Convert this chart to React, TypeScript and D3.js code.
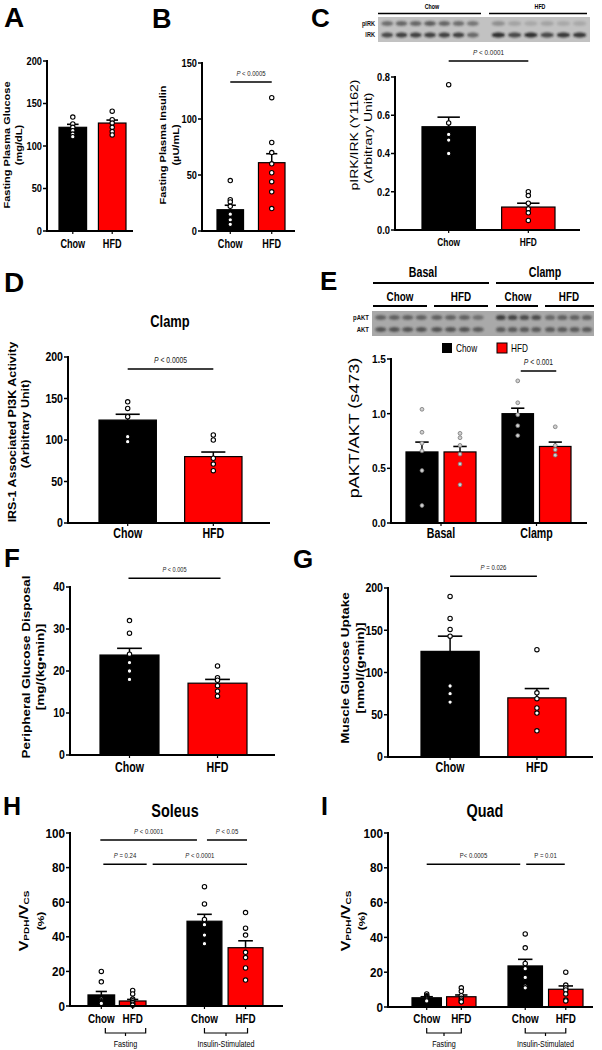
import React from "react";
import * as d3 from "d3";

const FONT = "'Liberation Sans', Arial, Helvetica, sans-serif";
const RED = "#ff0000";
const BLK = "#000000";

// ---------------- DATA ----------------
const diets = ["Chow", "HFD"];

// A  Fasting plasma glucose (mg/dL)
const glucoseTicks = [0, 50, 100, 150, 200];
const glucoseMean = [122, 127];
const glucoseSem = [3.5, 3.5];
const glucoseChow = [134, 126, 122, 118, 114, 111];
const glucoseHfd = [141, 131, 127, 122, 117, 113];

// B  Fasting plasma insulin (µU/mL)
const insulinTicks = [0, 50, 100, 150];
const insulinMean = [19, 61];
const insulinSem = [4, 8];
const insulinChow = [45, 28, 26, 22, 15, 10, 6];
const insulinHfd = [119, 79, 70, 60, 52, 44, 35, 20];

// C  pIRK/IRK
const irkTicks = [0, 0.2, 0.4, 0.6, 0.8];
const irkMean = [0.54, 0.12];
const irkSem = [0.05, 0.02];
const irkChow = [0.76, 0.56, 0.5, 0.47, 0.4];
const irkHfd = [0.2, 0.18, 0.14, 0.11, 0.09, 0.05];
const irkBlotRows = ["pIRK", "IRK"];
const pirkChowBands = [0.5, 0.55, 0.55, 0.6, 0.55, 0.5, 0.45];
const pirkHfdBands = [0.3, 0.18, 0.15, 0.18, 0.15, 0.15];
const irkChowBands = [0.75, 0.8, 0.8, 0.8, 0.8, 0.8, 0.55];
const irkHfdBands = [0.9, 0.75, 0.9, 0.75, 0.85, 0.85];

// D  IRS-1 associated PI3K activity
const pi3kTicks = [0, 50, 100, 150, 200];
const pi3kMean = [124, 80];
const pi3kSem = [7, 5.5];
const pi3kChow = [146, 138, 128, 104, 98];
const pi3kHfd = [106, 100, 78, 71, 63];

// E  pAKT/AKT
const aktConditions = ["Basal", "Clamp"];
const aktTicks = [0, 0.5, 1.0, 1.5];
const aktChowMean = [0.65, 1.0];
const aktHfdMean = [0.65, 0.7];
const aktChowSem = [0.09, 0.05];
const aktHfdSem = [0.05, 0.04];
const aktBasalChow = [1.04, 0.83, 0.73, 0.66, 0.48, 0.16];
const aktBasalHfd = [0.82, 0.78, 0.71, 0.63, 0.54, 0.35];
const aktClampChow = [1.3, 1.1, 0.99, 0.89, 0.8];
const aktClampHfd = [0.88, 0.71, 0.67, 0.62];
const aktBlotRows = ["pAKT", "AKT"];
const paktBasalChowBands = [0.5, 0.5, 0.5, 0.5];
const paktBasalHfdBands = [0.5, 0.5, 0.5, 0.4];
const paktClampChowBands = [0.75, 0.7, 0.65, 0.65];
const paktClampHfdBands = [0.45, 0.5, 0.5, 0.5];
const taktBasalChowBands = [0.6, 0.6, 0.6, 0.6];
const taktBasalHfdBands = [0.6, 0.6, 0.6, 0.55];
const taktClampChowBands = [0.55, 0.55, 0.55, 0.55];
const taktClampHfdBands = [0.55, 0.55, 0.55, 0.55];

// F  Peripheral glucose disposal
const gdTicks = [0, 10, 20, 30, 40];
const gdMean = [23.8, 17.1];
const gdSem = [1.6, 0.9];
const gdChow = [32, 29, 24, 22, 20, 18];
const gdHfd = [21.2, 18.4, 17.8, 16.5, 15.2, 14];

// G  Muscle glucose uptake
const mguTicks = [0, 50, 100, 150, 200];
const mguMean = [125, 70];
const mguSem = [18, 11];
const mguChow = [190, 164, 151, 143, 84, 75, 65];
const mguHfd = [127, 76, 69, 58, 52, 31];

// H  Soleus VPDH/VCS
const stateGroups = ["Fasting", "Insulin-Stimulated"];
const pctTicks = [0, 20, 40, 60, 80, 100];
const soleusChowMean = [6.4, 49];
const soleusHfdMean = [2.9, 33.7];
const soleusChowSem = [2, 4];
const soleusHfdSem = [0.9, 4];
const soleusFastChow = [20, 14, 4, 3, 2.5, 2, 1.5];
const soleusFastHfd = [9, 7, 4, 3, 2, 1, 0.5];
const soleusInsChow = [69, 59, 50, 47, 41, 36, 36];
const soleusInsHfd = [54, 45, 41, 31, 28, 22, 15];

// I  Quad VPDH/VCS
const quadChowMean = [5.3, 23.6];
const quadHfdMean = [5.9, 10.2];
const quadChowSem = [0.6, 3.8];
const quadHfdSem = [1, 1.9];
const quadFastChow = [7.5, 6.5, 6, 5.5, 5, 4.5, 4, 3.5];
const quadFastHfd = [11, 9, 6.5, 5, 4, 3, 3];
const quadInsChow = [42, 34, 25, 22, 17, 12, 11];
const quadInsHfd = [20, 12.6, 11, 9.8, 7.5, 4, 3.5];

// ---------------- helpers ----------------
type TP = {
  x: number; y: number; children: React.ReactNode; size?: number; weight?: any;
  anchor?: string; sx?: number; rotate?: number; fill?: string; central?: boolean;
};
function T({ x, y, children, size = 12, weight = "bold", anchor = "middle", sx = 0.76, rotate = 0, fill = "#000", central = false }: TP) {
  return (
    <text
      transform={`translate(${x},${y}) scale(${sx},1)${rotate ? ` rotate(${rotate})` : ""}`}
      fontSize={size}
      fontWeight={weight}
      textAnchor={anchor as any}
      fontFamily={FONT}
      fill={fill}
      dominantBaseline={central ? "central" : undefined}
    >
      {children}
    </text>
  );
}

type Bar = { label: string; mean: number; sem: number; dots: number[]; fill: string };
type Group = { label?: string; range: [number, number]; pad: number; bars: Bar[]; bracketDx?: [number, number] };
type Sig = { a: [number, number]; b: [number, number]; level: number; text: string; dx?: [number, number]; size?: number; italic?: boolean };
type Panel = {
  domain: [number, number]; ticks: number[]; fmt: (v: number) => string;
  yPx: [number, number]; axisX: number; axisEnd: number;
  tickSize: number; tickSx: number;
  groups: Group[];
  barLabels: boolean; labelY: number; labelSize: number; labelSx?: number;
  groupLabels?: boolean; bracketY?: number; groupLabelY?: number;
  sigs: Sig[];
  dot?: { r: number; fill: string; stroke: string; sw: number };
};

const twoDiet = (means: number[], sems: number[], chow: number[], hfd: number[]): Bar[] => [
  { label: diets[0], mean: means[0], sem: sems[0], dots: chow, fill: BLK },
  { label: diets[1], mean: means[1], sem: sems[1], dots: hfd, fill: RED },
];

function BarPanel({ p }: { p: Panel }) {
  const y = d3.scaleLinear().domain(p.domain).range(p.yPx);
  const [yb] = p.yPx;
  const dot = p.dot || { r: 2.2, fill: "#fff", stroke: "#000", sw: 1.1 };
  const placed = p.groups.map((g) => {
    const xs = d3.scaleBand<string>().domain(g.bars.map((b) => b.label)).range(g.range).paddingInner(g.pad).paddingOuter(0);
    const w = xs.bandwidth();
    return {
      g,
      bars: g.bars.map((b) => {
        const x = xs(b.label) as number;
        return { b, x, w, cx: x + w / 2 };
      }),
    };
  });
  const center = (r: [number, number]) => placed[r[0]].bars[r[1]].cx;
  const groupCenter = (pg: any) => (pg.bars[0].x + pg.bars[pg.bars.length - 1].x + pg.bars[0].w) / 2;
  const tickXs = p.groupLabels && !p.barLabels ? placed.map(groupCenter) : placed.flatMap((pg) => pg.bars.map((b) => b.cx));
  const top = y(p.domain[1]);
  return (
    <g>
      {placed.flatMap((pg, gi) =>
        pg.bars.map((pb, si) => {
          const yt = y(pb.b.mean);
          const ye = y(pb.b.mean + pb.b.sem);
          return (
            <g key={`b${gi}-${si}`}>
              <rect x={pb.x} y={yt} width={pb.w} height={yb - yt} fill={pb.b.fill} stroke="#000" strokeWidth={1.2} />
              <line x1={pb.cx} x2={pb.cx} y1={yt} y2={ye} stroke="#000" strokeWidth={1.5} />
              <line x1={pb.cx - pb.w * 0.21} x2={pb.cx + pb.w * 0.21} y1={ye} y2={ye} stroke="#000" strokeWidth={1.6} />
              {pb.b.dots.map((v, k) => (
                <circle key={k} cx={pb.cx} cy={y(v)} r={dot.r} fill={dot.fill} stroke={dot.stroke} strokeWidth={dot.sw} />
              ))}
            </g>
          );
        })
      )}
      {/* y axis */}
      <line x1={p.axisX} x2={p.axisX} y1={top - 1} y2={yb + 1} stroke="#000" strokeWidth={2} />
      {p.ticks.map((t) => (
        <g key={`t${t}`}>
          <line x1={p.axisX - 4} x2={p.axisX} y1={y(t)} y2={y(t)} stroke="#000" strokeWidth={1.5} />
          <T x={p.axisX - 5} y={y(t) + p.tickSize * 0.36} size={p.tickSize} anchor="end" sx={p.tickSx}>
            {p.fmt(t)}
          </T>
        </g>
      ))}
      {/* x axis */}
      <line x1={p.axisX - 1} x2={p.axisEnd} y1={yb} y2={yb} stroke="#000" strokeWidth={2} />
      {tickXs.map((x, i) => (
        <line key={`xt${i}`} x1={x} x2={x} y1={yb} y2={yb + 3} stroke="#000" strokeWidth={1.2} />
      ))}
      {p.barLabels &&
        placed.flatMap((pg, gi) =>
          pg.bars.map((pb, si) => (
            <T key={`bl${gi}-${si}`} x={pb.cx} y={p.labelY} size={p.labelSize} sx={p.labelSx ?? 0.76}>
              {pb.b.label}
            </T>
          ))
        )}
      {p.groupLabels && !p.barLabels &&
        placed.map((pg, gi) => (
          <T key={`gl${gi}`} x={groupCenter(pg)} y={p.labelY} size={p.labelSize} sx={p.labelSx ?? 0.76}>
            {pg.g.label}
          </T>
        ))}
      {p.groupLabels && p.barLabels && p.bracketY !== undefined &&
        placed.map((pg, gi) => {
          const dx = pg.g.bracketDx || [0, 0];
          const x1 = pg.bars[0].cx + dx[0];
          const x2 = pg.bars[pg.bars.length - 1].cx + dx[1];
          const by = p.bracketY as number;
          return (
            <g key={`br${gi}`}>
              <path d={`M${x1},${by - 5}V${by}H${x2}V${by - 5}M${(x1 + x2) / 2},${by}v3`} fill="none" stroke="#000" strokeWidth={1.2} />
              <T x={(x1 + x2) / 2} y={p.groupLabelY as number} size={9} weight="normal" sx={0.8}>
                {pg.g.label}
              </T>
            </g>
          );
        })}
      {p.sigs.map((s, i) => {
        const dx = s.dx || [0, 0];
        const x1 = center(s.a) + dx[0];
        const x2 = center(s.b) + dx[1];
        const yy = y(s.level);
        const first = s.text.slice(0, 1);
        const rest = s.text.slice(1);
        return (
          <g key={`s${i}`}>
            <line x1={x1} x2={x2} y1={yy} y2={yy} stroke="#000" strokeWidth={1.5} />
            <T x={(x1 + x2) / 2} y={yy - 6} size={s.size ?? 8} weight="normal" sx={0.8} fill="#222">
              <tspan fontStyle={s.italic === false ? "normal" : "italic"}>{first}</tspan>
              {rest}
            </T>
          </g>
        );
      })}
    </g>
  );
}

type BlotProps = {
  x0: number; x1: number; y0: number; y1: number; bg: string;
  rowY: number[]; rowLabels: string[]; spans: [number, number][];
  bands: number[][][]; // [row][span][lane]
  labelSize: number;
};
function Blot({ x0, x1, y0, y1, bg, rowY, rowLabels, spans, bands, labelSize }: BlotProps) {
  return (
    <g>
      <rect x={x0} y={y0} width={x1 - x0} height={y1 - y0} fill={bg} />
      {rowY.map((ry, r) =>
        spans.map((sp, si) => {
          const lanes = bands[r][si];
          const xs = d3.scaleBand<number>().domain(d3.range(lanes.length)).range(sp).padding(0.15);
          return lanes.map((v, li) => (
            <ellipse
              key={`${r}-${si}-${li}`}
              cx={(xs(li) as number) + xs.bandwidth() / 2}
              cy={ry}
              rx={xs.bandwidth() * 0.48}
              ry={2.6}
              fill="#1a1a1a"
              opacity={v}
              filter="url(#blotblur)"
            />
          ));
        })
      )}
      {rowLabels.map((l, r) => (
        <T key={l} x={x0 - 3} y={rowY[r] + labelSize * 0.35} size={labelSize} anchor="end" sx={0.8} fill="#111">
          {l}
        </T>
      ))}
    </g>
  );
}

// ---------------- panel configs ----------------
const fInt = d3.format("d");
const f1 = d3.format(".1f");

const panelA: Panel = {
  domain: [0, 200], ticks: glucoseTicks, fmt: fInt, yPx: [231, 61], axisX: 47, axisEnd: 133,
  tickSize: 10.5, tickSx: 0.88,
  groups: [{ range: [59, 126], pad: 0.3, bars: twoDiet(glucoseMean, glucoseSem, glucoseChow, glucoseHfd) }],
  barLabels: true, labelY: 248, labelSize: 12, sigs: [],
};
const panelB: Panel = {
  domain: [0, 150], ticks: insulinTicks, fmt: fInt, yPx: [231, 63], axisX: 202, axisEnd: 295,
  tickSize: 10.5, tickSx: 0.88,
  groups: [{ range: [217, 285], pad: 0.36, bars: twoDiet(insulinMean, insulinSem, insulinChow, insulinHfd) }],
  barLabels: true, labelY: 248, labelSize: 12,
  sigs: [{ a: [0, 0], b: [0, 1], level: 133, text: "P < 0.0005", size: 7.5 }],
};
const panelC: Panel = {
  domain: [0, 0.8], ticks: irkTicks, fmt: f1, yPx: [230, 77], axisX: 395, axisEnd: 580,
  tickSize: 11, tickSx: 0.85,
  groups: [{ range: [422, 555], pad: 0.33, bars: twoDiet(irkMean, irkSem, irkChow, irkHfd) }],
  barLabels: true, labelY: 246, labelSize: 11,
  sigs: [{ a: [0, 0], b: [0, 1], level: 0.884, text: "P < 0.0001", size: 8 }],
};
const panelD: Panel = {
  domain: [0, 200], ticks: pi3kTicks, fmt: fInt, yPx: [523, 357], axisX: 68, axisEnd: 270,
  tickSize: 12, tickSx: 0.88,
  groups: [{ range: [99, 242], pad: 0.33, bars: twoDiet(pi3kMean, pi3kSem, pi3kChow, pi3kHfd) }],
  barLabels: true, labelY: 538, labelSize: 14,
  sigs: [{ a: [0, 0], b: [0, 1], level: 185.5, text: "P < 0.0005", size: 8.5 }],
};
const panelE: Panel = {
  domain: [0, 1.5], ticks: aktTicks, fmt: f1, yPx: [523, 359], axisX: 391, axisEnd: 587,
  tickSize: 11.5, tickSx: 0.88,
  groups: [
    { label: aktConditions[0], range: [406, 476], pad: 0.16, bars: [
      { label: diets[0], mean: aktChowMean[0], sem: aktChowSem[0], dots: aktBasalChow, fill: BLK },
      { label: diets[1], mean: aktHfdMean[0], sem: aktHfdSem[0], dots: aktBasalHfd, fill: RED },
    ] },
    { label: aktConditions[1], range: [502, 571], pad: 0.16, bars: [
      { label: diets[0], mean: aktChowMean[1], sem: aktChowSem[1], dots: aktClampChow, fill: BLK },
      { label: diets[1], mean: aktHfdMean[1], sem: aktHfdSem[1], dots: aktClampHfd, fill: RED },
    ] },
  ],
  barLabels: false, groupLabels: true, labelY: 538, labelSize: 14,
  sigs: [{ a: [1, 0], b: [1, 1], level: 1.39, text: "P < 0.001", dx: [3, 1], size: 8.5 }],
  dot: { r: 1.9, fill: "#d0d0d0", stroke: "#777", sw: 0.8 },
};
const panelF: Panel = {
  domain: [0, 40], ticks: gdTicks, fmt: fInt, yPx: [755, 587], axisX: 70, axisEnd: 275,
  tickSize: 12, tickSx: 0.88,
  groups: [{ range: [100, 247], pad: 0.33, bars: twoDiet(gdMean, gdSem, gdChow, gdHfd) }],
  barLabels: true, labelY: 772, labelSize: 14,
  sigs: [{ a: [0, 0], b: [0, 1], level: 42.1, text: "P < 0.005", dx: [-1, 3], size: 7 }],
};
const panelG: Panel = {
  domain: [0, 200], ticks: mguTicks, fmt: fInt, yPx: [757, 588], axisX: 388, axisEnd: 593,
  tickSize: 12, tickSx: 0.88,
  groups: [{ range: [421, 566], pad: 0.33, bars: twoDiet(mguMean, mguSem, mguChow, mguHfd) }],
  barLabels: true, labelY: 772, labelSize: 14,
  sigs: [{ a: [0, 0], b: [0, 1], level: 214, text: "P = 0.026", size: 7.5 }],
};
const panelH: Panel = {
  domain: [0, 100], ticks: pctTicks, fmt: fInt, yPx: [1006, 833], axisX: 70, axisEnd: 283,
  tickSize: 13, tickSx: 0.9,
  groups: [
    { label: stateGroups[0], range: [88, 146], pad: 0.15, bracketDx: [4, 13], bars: [
      { label: diets[0], mean: soleusChowMean[0], sem: soleusChowSem[0], dots: soleusFastChow, fill: BLK },
      { label: diets[1], mean: soleusHfdMean[0], sem: soleusHfdSem[0], dots: soleusFastHfd, fill: RED },
    ] },
    { label: stateGroups[1], range: [187, 263], pad: 0.15, bracketDx: [0, 2], bars: [
      { label: diets[0], mean: soleusChowMean[1], sem: soleusChowSem[1], dots: soleusInsChow, fill: BLK },
      { label: diets[1], mean: soleusHfdMean[1], sem: soleusHfdSem[1], dots: soleusInsHfd, fill: RED },
    ] },
  ],
  barLabels: true, groupLabels: true, labelY: 1023, labelSize: 13, bracketY: 1033, groupLabelY: 1047,
  sigs: [
    { a: [0, 0], b: [1, 0], level: 96, text: "P < 0.0001", dx: [-1, -7.5], size: 7.5 },
    { a: [1, 0], b: [1, 1], level: 96, text: "P < 0.05", dx: [2.5, 1.5], size: 7.5 },
    { a: [0, 0], b: [0, 1], level: 82, text: "P = 0.24", dx: [2, 14], size: 7.5 },
    { a: [0, 1], b: [1, 1], level: 82, text: "P < 0.0001", dx: [20, 1.5], size: 7.5 },
  ],
};
const panelI: Panel = {
  domain: [0, 100], ticks: pctTicks, fmt: fInt, yPx: [1007, 833], axisX: 388, axisEnd: 593,
  tickSize: 13, tickSx: 0.9,
  groups: [
    { label: stateGroups[0], range: [412, 476], pad: 0.15, bars: [
      { label: diets[0], mean: quadChowMean[0], sem: quadChowSem[0], dots: quadFastChow, fill: BLK },
      { label: diets[1], mean: quadHfdMean[0], sem: quadHfdSem[0], dots: quadFastHfd, fill: RED },
    ] },
    { label: stateGroups[1], range: [508, 583], pad: 0.15, bars: [
      { label: diets[0], mean: quadChowMean[1], sem: quadChowSem[1], dots: quadInsChow, fill: BLK },
      { label: diets[1], mean: quadHfdMean[1], sem: quadHfdSem[1], dots: quadInsHfd, fill: RED },
    ] },
  ],
  barLabels: true, groupLabels: true, labelY: 1023, labelSize: 13, bracketY: 1033, groupLabelY: 1047,
  sigs: [
    { a: [0, 0], b: [1, 0], level: 82, text: "P< 0.0005", dx: [0, -5], size: 7.5, italic: false },
    { a: [1, 0], b: [1, 1], level: 82, text: "P = 0.01", dx: [1, -1], size: 7.5, italic: false },
  ],
};

function Letter({ x, y, c, size = 26 }: { x: number; y: number; c: string; size?: number }) {
  return (
    <text x={x} y={y} fontSize={size} fontWeight="bold" fontFamily={FONT}>
      {c}
    </text>
  );
}

function YLab({ x, y, text, size, weight = "bold" }: { x: number; y: number; text: string; size: number; weight?: any }) {
  return (
    <T x={x} y={y} size={size} rotate={-90} central weight={weight} sx={0.8}>
      {text}
    </T>
  );
}

function VLab({ x, y }: { x: number; y: number }) {
  return (
    <T x={x} y={y} size={16} rotate={-90} central sx={0.8}>
      V<tspan fontSize={10} dy={3}>PDH</tspan>
      <tspan dy={-3}>/V</tspan>
      <tspan fontSize={10} dy={3}>CS</tspan>
    </T>
  );
}

export default function App() {
  return (
    <svg width={602} height={1050} style={{ position: "absolute", left: 0, top: 0, background: "#fff" }}>
      <defs>
        <filter id="blotblur" x="-50%" y="-100%" width="200%" height="300%">
          <feGaussianBlur stdDeviation="0.8" />
        </filter>
      </defs>
      <rect width={602} height={1050} fill="#fff" />

      {/* A */}
      <Letter x={4} y={27} c="A" size={28} />
      <YLab x={7} y={145} text="Fasting Plasma Glucose" size={11} />
      <YLab x={19} y={145} text="(mg/dL)" size={11} />
      <BarPanel p={panelA} />

      {/* B */}
      <Letter x={152} y={28} c="B" size={27} />
      <YLab x={163} y={145} text="Fasting Plasma Insulin" size={11} />
      <YLab x={176} y={145} text="(µU/mL)" size={11} />
      <BarPanel p={panelB} />

      {/* C */}
      <Letter x={311} y={27} c="C" size={26} />
      <T x={432} y={9} size={7}>{diets[0]}</T>
      <T x={540} y={9} size={7}>{diets[1]}</T>
      <line x1={378} x2={481} y1={13.5} y2={13.5} stroke="#000" strokeWidth={1.5} />
      <line x1={489} x2={587} y1={13.5} y2={13.5} stroke="#000" strokeWidth={1.5} />
      <Blot
        x0={378} x1={590} y0={17} y1={42} bg="#c2c2c2" rowY={[23.5, 35]} rowLabels={irkBlotRows}
        spans={[[379, 481], [489, 589]]}
        bands={[[pirkChowBands, pirkHfdBands], [irkChowBands, irkHfdBands]]}
        labelSize={7}
      />
      <YLab x={354} y={135} text="pIRK/IRK (Y1162)" size={14} weight="normal" />
      <YLab x={368} y={138} text="(Arbitrary Unit)" size={14} weight="normal" />
      <BarPanel p={panelC} />

      {/* D */}
      <Letter x={4} y={292} c="D" size={28} />
      <T x={170} y={327} size={17}>Clamp</T>
      <YLab x={12} y={432} text="IRS-1 Associated PI3K Activity" size={12.5} />
      <YLab x={25} y={424} text="(Arbitrary Unit)" size={12.5} />
      <BarPanel p={panelD} />

      {/* E */}
      <Letter x={320} y={290} c="E" size={26} />
      <T x={423} y={277} size={14}>{aktConditions[0]}</T>
      <T x={545} y={277} size={14}>{aktConditions[1]}</T>
      <line x1={373} x2={489} y1={283} y2={283} stroke="#000" strokeWidth={2} />
      <line x1={496} x2={594} y1={283} y2={283} stroke="#000" strokeWidth={2} />
      <T x={400} y={301} size={13}>{diets[0]}</T>
      <T x={461} y={301} size={13}>{diets[1]}</T>
      <T x={518} y={301} size={13}>{diets[0]}</T>
      <T x={569} y={301} size={13}>{diets[1]}</T>
      <line x1={373} x2={427} y1={306} y2={306} stroke="#000" strokeWidth={2} />
      <line x1={434} x2={488} y1={306} y2={306} stroke="#000" strokeWidth={2} />
      <line x1={496} x2={538} y1={306} y2={306} stroke="#000" strokeWidth={2} />
      <line x1={545} x2={594} y1={306} y2={306} stroke="#000" strokeWidth={2} />
      <Blot
        x0={372} x1={594} y0={311} y1={336} bg="#a9a9a9" rowY={[317.5, 329.5]} rowLabels={aktBlotRows}
        spans={[[373, 429], [429, 486], [494, 543], [543, 594]]}
        bands={[
          [paktBasalChowBands, paktBasalHfdBands, paktClampChowBands, paktClampHfdBands],
          [taktBasalChowBands, taktBasalHfdBands, taktClampChowBands, taktClampHfdBands],
        ]}
        labelSize={7.5}
      />
      <rect x={442} y={343} width={10} height={10} fill={BLK} />
      <T x={456} y={352} size={11} weight="normal" anchor="start" sx={0.75}>{diets[0]}</T>
      <rect x={497} y={343} width={10} height={10} fill={RED} stroke="#000" strokeWidth={1} />
      <T x={511} y={352} size={11} weight="normal" anchor="start" sx={0.75}>{diets[1]}</T>
      <YLab x={354} y={428} text="pAKT/AKT (s473)" size={18} weight="normal" />
      <BarPanel p={panelE} />

      {/* F */}
      <Letter x={4} y={567} c="F" size={26} />
      <YLab x={26} y={667} text="Peripheral Glucose Disposal" size={13.5} />
      <YLab x={40} y={667} text="[mg/(kg•min)]" size={13.5} />
      <BarPanel p={panelF} />

      {/* G */}
      <Letter x={293} y={568} c="G" size={26} />
      <YLab x={345} y={668} text="Muscle Glucose Uptake" size={13.5} />
      <YLab x={360} y={668} text="[nmol/(g•min)]" size={13.5} />
      <BarPanel p={panelG} />

      {/* H */}
      <Letter x={3} y={815} c="H" size={25} />
      <T x={175} y={817} size={19}>Soleus</T>
      <VLab x={24} y={921} />
      <YLab x={40} y={921} text="(%)" size={12} />
      <BarPanel p={panelH} />

      {/* I */}
      <Letter x={321} y={815} c="I" size={25} />
      <T x={485} y={817} size={19}>Quad</T>
      <VLab x={346} y={921} />
      <YLab x={361} y={921} text="(%)" size={12} />
      <BarPanel p={panelI} />
    </svg>
  );
}
